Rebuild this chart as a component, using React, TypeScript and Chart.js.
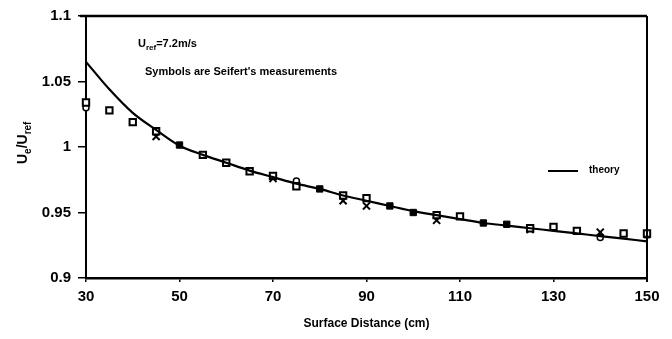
import React, { useEffect, useRef } from "react";
import { Chart, registerables } from "chart.js";

Chart.register(...registerables);

const theoryX = [30, 35, 40, 45, 50, 55, 60, 65, 70, 75, 80, 85, 90, 95, 100, 105, 110, 115, 120, 125, 130, 135, 140, 145, 150];
const theoryY = [1.065, 1.044, 1.026, 1.013, 1.001, 0.994, 0.988, 0.982, 0.977, 0.972, 0.968, 0.963, 0.959, 0.955, 0.951, 0.948, 0.945, 0.942, 0.94, 0.938, 0.936, 0.934, 0.932, 0.93, 0.928];

const squareX = [30, 35, 40, 45, 55, 60, 65, 70, 75, 85, 90, 105, 110, 125, 130, 135, 145, 150];
const squareY = [1.034, 1.028, 1.019, 1.012, 0.994, 0.988, 0.9815, 0.978, 0.97, 0.963, 0.961, 0.948, 0.947, 0.938, 0.939, 0.936, 0.934, 0.934];

const filledX = [50, 80, 95, 100, 115, 120, 150];
const filledY = [1.0015, 0.968, 0.955, 0.95, 0.942, 0.941, 0.933];

const crossX = [45, 70, 85, 90, 105, 125, 140];
const crossY = [1.008, 0.976, 0.959, 0.955, 0.944, 0.937, 0.935];

const circleX = [30, 75, 140];
const circleY = [1.03, 0.974, 0.931];

const yTicks = [0.9, 0.95, 1, 1.05, 1.1];
const yTickLabels = ["0.9", "0.95", "1", "1.05", "1.1"];
const xTicks = [30, 50, 70, 90, 110, 130, 150];

const xTitle = "Surface Distance (cm)";
const legendLabel = "theory";
const noteLine = "Symbols are Seifert's measurements";

const pts = (xs: number[], ys: number[]) => xs.map((x, i) => ({ x, y: ys[i] }));

const FONT = "'Liberation Sans', Arial, sans-serif";

function drawParts(ctx: CanvasRenderingContext2D, parts: [string, boolean][], x: number, y: number, size: number) {
  let cx = x;
  for (const [t, sub] of parts) {
    ctx.font = `bold ${sub ? Math.round(size * 0.7) : size}px ${FONT}`;
    ctx.fillText(t, cx, sub ? y + size * 0.3 : y);
    cx += ctx.measureText(t).width;
  }
}

const framePlugin = {
  id: "frame",
  afterDraw(chart: any) {
    const { ctx, chartArea: a } = chart;
    ctx.save();
    ctx.strokeStyle = "#000";
    ctx.lineWidth = 2.5;
    ctx.beginPath();
    ctx.moveTo(a.left - 6, a.top);
    ctx.lineTo(a.right, a.top);
    ctx.stroke();
    ctx.lineWidth = 2;
    ctx.beginPath();
    ctx.moveTo(a.right, a.top);
    ctx.lineTo(a.right, a.bottom + 4);
    ctx.stroke();

    ctx.fillStyle = "#000";
    ctx.textBaseline = "alphabetic";
    ctx.textAlign = "left";
    drawParts(ctx, [["U", false], ["ref", true], ["=7.2m/s", false]], 138, 47, 11);
    ctx.font = `bold 11px ${FONT}`;
    ctx.fillText(noteLine, 145, 75);

    // legend
    ctx.lineWidth = 2;
    ctx.beginPath();
    ctx.moveTo(548, 171);
    ctx.lineTo(578, 171);
    ctx.stroke();
    ctx.font = `bold 10px ${FONT}`;
    ctx.fillText(legendLabel, 589, 173);

    // y title
    ctx.save();
    ctx.translate(27, 164);
    ctx.rotate(-Math.PI / 2);
    drawParts(ctx, [["U", false], ["e", true], ["/U", false], ["ref", true]], 0, 0, 14);
    ctx.restore();
    ctx.restore();
  },
};

export default function App() {
  const ref = useRef<HTMLCanvasElement>(null);
  useEffect(() => {
    const chart = new Chart(ref.current!, {
      type: "scatter",
      data: {
        datasets: [
          {
            type: "line",
            label: "theory",
            data: pts(theoryX, theoryY),
            borderColor: "#000",
            borderWidth: 2.2,
            pointRadius: 0,
            cubicInterpolationMode: "monotone",
          } as any,
          {
            label: "squares",
            data: pts(squareX, squareY),
            pointStyle: "rect",
            pointRadius: 4.5,
            borderColor: "#000",
            backgroundColor: "#fff",
            borderWidth: 2,
            clip: false,
          },
          {
            label: "filled",
            data: pts(filledX, filledY),
            pointStyle: "rect",
            pointRadius: 4.5,
            borderColor: "#000",
            backgroundColor: "#000",
            borderWidth: 1,
            clip: false,
          },
          {
            label: "cross",
            data: pts(crossX, crossY),
            pointStyle: "crossRot",
            pointRadius: 5,
            borderColor: "#000",
            borderWidth: 2,
            clip: false,
          },
          {
            label: "circle",
            data: pts(circleX, circleY),
            pointStyle: "circle",
            pointRadius: 3,
            borderColor: "#000",
            backgroundColor: "#fff",
            borderWidth: 1.5,
            clip: false,
          },
        ],
      },
      options: {
        responsive: false,
        animation: false,
        layout: { padding: { left: 0, right: 25, top: 13, bottom: 8 } },
        plugins: { legend: { display: false }, tooltip: { enabled: false } },
        scales: {
          x: {
            type: "linear",
            min: 30,
            max: 150,
            afterBuildTicks: (s: any) => {
              s.ticks = xTicks.map((v) => ({ value: v }));
            },
            afterFit: (s: any) => {
              s.height = 53;
            },
            grid: { drawOnChartArea: false, tickLength: 4, color: "#000", lineWidth: 1.5 },
            border: { color: "#000", width: 2.5 },
            ticks: {
              color: "#000",
              padding: 6,
              maxRotation: 0,
              font: { family: FONT, size: 15, weight: "bold" },
            },
            title: {
              display: true,
              text: xTitle,
              color: "#000",
              font: { family: FONT, size: 12, weight: "bold" },
              padding: { top: 0, bottom: 0 },
            },
          },
          y: {
            type: "linear",
            min: 0.9,
            max: 1.1,
            afterBuildTicks: (s: any) => {
              s.ticks = yTicks.map((v) => ({ value: v }));
            },
            afterFit: (s: any) => {
              s.width = 86;
            },
            grid: { drawOnChartArea: false, tickLength: 8, color: "#000", lineWidth: 1.5 },
            border: { color: "#000", width: 2 },
            ticks: {
              color: "#000",
              padding: 7,
              font: { family: FONT, size: 15, weight: "bold" },
              callback: (v: any) => {
                const i = yTicks.findIndex((t) => Math.abs(t - v) < 1e-9);
                return i >= 0 ? yTickLabels[i] : "";
              },
            },
          },
        },
      },
      plugins: [framePlugin],
    } as any);
    return () => chart.destroy();
  }, []);
  return (
    <div style={{ position: "absolute", left: 0, top: 0, width: 672, height: 339, background: "#fff" }}>
      <canvas ref={ref} width={672} height={339} />
    </div>
  );
}
